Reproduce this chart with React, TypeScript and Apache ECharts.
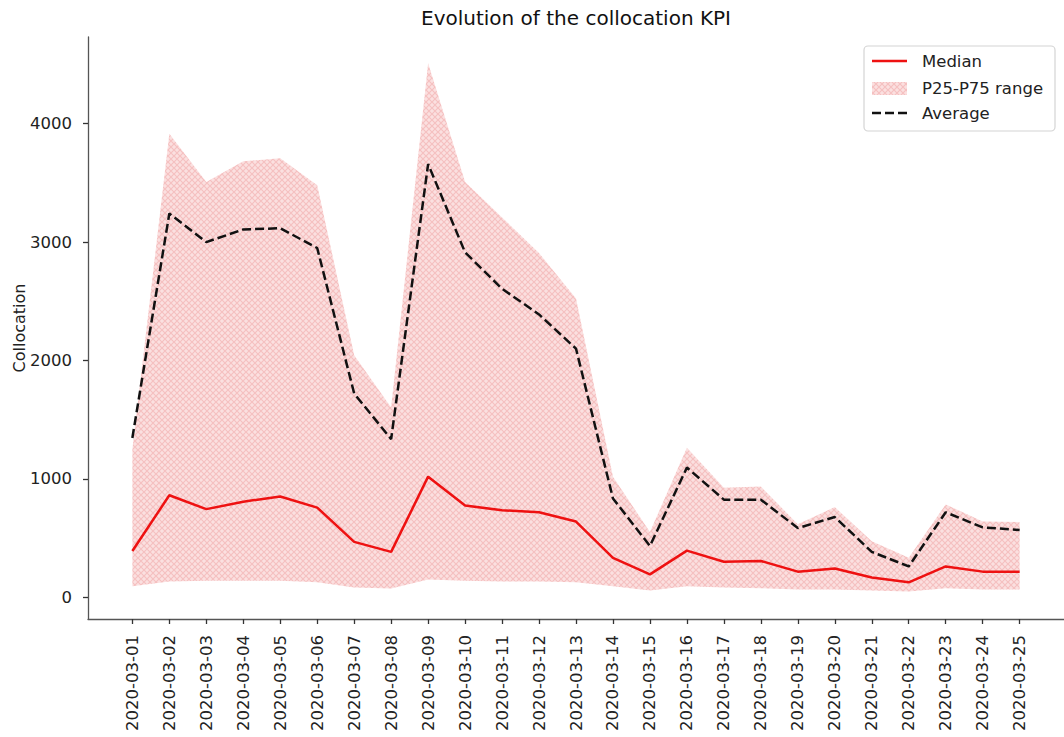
import React, { useEffect, useRef } from "react";
import * as echarts from "echarts";

const dates = [
  "2020-03-01", "2020-03-02", "2020-03-03", "2020-03-04", "2020-03-05",
  "2020-03-06", "2020-03-07", "2020-03-08", "2020-03-09", "2020-03-10",
  "2020-03-11", "2020-03-12", "2020-03-13", "2020-03-14", "2020-03-15",
  "2020-03-16", "2020-03-17", "2020-03-18", "2020-03-19", "2020-03-20",
  "2020-03-21", "2020-03-22", "2020-03-23", "2020-03-24", "2020-03-25",
];
const median = [391, 862, 745, 808, 852, 758, 468, 384, 1019, 775, 735, 718, 640, 334, 194, 394, 301, 307, 217, 244, 167, 127, 261, 217, 217];
const average = [1346, 3241, 3000, 3107, 3117, 2950, 1721, 1336, 3659, 2913, 2606, 2389, 2100, 835, 434, 1096, 825, 825, 585, 678, 384, 261, 718, 591, 568];
const p75 = [1250, 3916, 3508, 3682, 3709, 3481, 2045, 1604, 4511, 3508, 3208, 2907, 2523, 1019, 551, 1263, 925, 935, 618, 762, 474, 334, 785, 641, 635];
const p25 = [94, 134, 140, 140, 140, 127, 84, 74, 150, 140, 134, 134, 127, 94, 57, 94, 84, 77, 67, 67, 57, 50, 77, 67, 67];
const yTicks = [0, 1000, 2000, 3000, 4000];

const FONT = "DejaVu Sans";

function makeHatch() {
  const c = document.createElement("canvas");
  c.width = 6;
  c.height = 6;
  const g = c.getContext("2d")!;
  g.fillStyle = "#fbe0e0";
  g.fillRect(0, 0, 6, 6);
  g.strokeStyle = "#f5c0c0";
  g.lineWidth = 1.2;
  g.beginPath();
  g.moveTo(-1, -1);
  g.lineTo(7, 7);
  g.moveTo(7, -1);
  g.lineTo(-1, 7);
  g.stroke();
  return { image: c, repeat: "repeat", imageWidth: 6, imageHeight: 6 } as any;
}

export default function App() {
  const ref = useRef<HTMLDivElement>(null);
  useEffect(() => {
    if (!ref.current) return;
    const chart = echarts.init(ref.current, undefined, { renderer: "svg" });
    const hatch = makeHatch();
    const xIdx = dates.map((_, i) => i);
    chart.setOption({
      animation: false,
      backgroundColor: "#ffffff",
      textStyle: { fontFamily: FONT },
      grid: { left: 88, right: 0, top: 37, bottom: 118 },
      xAxis: {
        type: "value",
        min: -1.2,
        max: 25.2,
        splitLine: { show: false },
        axisLine: { show: true, onZero: false, lineStyle: { color: "#555", width: 1.3 } },
        axisTick: { show: true, customValues: xIdx, length: 5, lineStyle: { color: "#333", width: 1.3 } },
        axisLabel: {
          customValues: xIdx,
          rotate: 90,
          margin: 16,
          fontSize: 16.5,
          color: "#222",
          fontFamily: FONT,
          formatter: (v: number) => dates[Math.round(v)] ?? "",
        },
      },
      yAxis: {
        type: "value",
        min: -183,
        max: 4732,
        name: "Collocation",
        nameLocation: "middle",
        nameGap: 61,
        nameMoveOverlap: false,
        nameTextStyle: { fontSize: 16, color: "#222", fontFamily: FONT },
        splitLine: { show: false },
        axisLine: { show: true, onZero: false, lineStyle: { color: "#555", width: 1.3 } },
        axisTick: { show: true, customValues: yTicks, length: 5, lineStyle: { color: "#333", width: 1.3 } },
        axisLabel: {
          customValues: yTicks,
          margin: 16,
          fontSize: 16.5,
          color: "#222",
          fontFamily: FONT,
          formatter: (v: number) => String(Math.round(v)),
        },
      },
      series: [
        {
          type: "custom",
          name: "P25-P75 range",
          data: [[0, 0]],
          z: 1,
          renderItem: (params: any, api: any) => {
            const pts: number[][] = [];
            for (let i = 0; i < dates.length; i++) pts.push(api.coord([i, p75[i]]));
            for (let i = dates.length - 1; i >= 0; i--) pts.push(api.coord([i, p25[i]]));
            return {
              type: "polygon",
              shape: { points: pts },
              style: { fill: hatch, stroke: "none" },
            };
          },
        },
        {
          type: "line",
          name: "Median",
          data: median.map((v, i) => [i, v]),
          symbol: "none",
          z: 3,
          lineStyle: { color: "#ee1111", width: 2.5 },
        },
        {
          type: "line",
          name: "Average",
          data: average.map((v, i) => [i, v]),
          symbol: "none",
          z: 4,
          lineStyle: { color: "#111", width: 2.5, type: [9, 4] },
        },
      ],
      graphic: [
        {
          type: "text",
          x: 576,
          y: 18,
          style: {
            text: "Evolution of the collocation KPI",
            fontSize: 20,
            fontFamily: FONT,
            fill: "#111",
            align: "center",
            verticalAlign: "middle",
          },
        },
        {
          type: "rect",
          shape: { x: 864, y: 46, width: 191, height: 85, r: 4 },
          style: { fill: "rgba(255,255,255,0.85)", stroke: "#d4d4d4", lineWidth: 1.2 },
          z: 10,
        },
        {
          type: "line",
          shape: { x1: 872, y1: 61, x2: 907, y2: 61 },
          style: { stroke: "#ee1111", lineWidth: 2.5 },
          z: 11,
        },
        {
          type: "rect",
          shape: { x: 872, y: 82, width: 35, height: 13 },
          style: { fill: hatch },
          z: 11,
        },
        {
          type: "line",
          shape: { x1: 872, y1: 113, x2: 907, y2: 113 },
          style: { stroke: "#111", lineWidth: 2.5, lineDash: [9, 4] },
          z: 11,
        },
        {
          type: "text",
          x: 922,
          y: 61,
          z: 11,
          style: { text: "Median", fontSize: 16.5, fontFamily: FONT, fill: "#222", verticalAlign: "middle" },
        },
        {
          type: "text",
          x: 922,
          y: 88,
          z: 11,
          style: { text: "P25-P75 range", fontSize: 16.5, fontFamily: FONT, fill: "#222", verticalAlign: "middle" },
        },
        {
          type: "text",
          x: 922,
          y: 113,
          z: 11,
          style: { text: "Average", fontSize: 16.5, fontFamily: FONT, fill: "#222", verticalAlign: "middle" },
        },
      ],
    });
    return () => chart.dispose();
  }, []);
  return (
    <div
      ref={ref}
      style={{ position: "absolute", left: 0, top: 0, width: 1064, height: 737, background: "#fff" }}
    />
  );
}
